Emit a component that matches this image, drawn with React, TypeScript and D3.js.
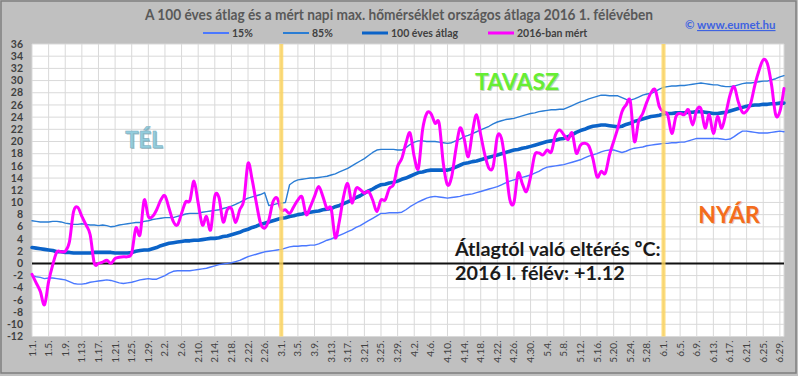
import React from "react";
import * as d3 from "d3";

// ---------- data ----------
const title =
  "A 100 éves átlag és a mért napi max. hőmérséklet országos átlaga 2016 1. félévében";

const seriesNames = ["15%", "85%", "100 éves átlag", "2016-ban mért"];

// daily categories 2016-01-01 .. 2016-06-30
const dayDates = d3.timeDay.range(new Date(2016, 0, 1), new Date(2016, 6, 1));
const dayLabels = dayDates.map((d) => `${d.getMonth() + 1}.${d.getDate()}.`);

const xTickLabels = [
  "1.1.", "1.5.", "1.9.", "1.13.", "1.17.", "1.21.", "1.25.", "1.29.",
  "2.2.", "2.6.", "2.10.", "2.14.", "2.18.", "2.22.", "2.26.",
  "3.1.", "3.5.", "3.9.", "3.13.", "3.17.", "3.21.", "3.25.", "3.29.",
  "4.2.", "4.6.", "4.10.", "4.14.", "4.18.", "4.22.", "4.26.", "4.30.",
  "5.4.", "5.8.", "5.12.", "5.16.", "5.20.", "5.24.", "5.28.",
  "6.1.", "6.5.", "6.9.", "6.13.", "6.17.", "6.21.", "6.25.", "6.29.",
];

const yTicks = [-12, -10, -8, -6, -4, -2, 0, 2, 4, 6, 8, 10, 12, 14, 16, 18, 20, 22, 24, 26, 28, 30, 32, 34, 36];

const seasonMarkers = ["3.1.", "6.1."];

const p15 = [
  -2.0, -2.2, -2.3, -2.5, -2.4, -2.4, -2.5, -2.6, -2.7, -3.0,
  -3.3, -3.4, -3.4, -3.3, -3.1, -3.0, -2.9, -2.8, -2.7, -2.8,
  -3.0, -3.2, -3.3, -3.2, -3.1, -2.9, -2.7, -2.6, -2.5, -2.6,
  -2.6, -2.3, -2.0, -1.6, -1.3, -1.2, -1.2, -1.2, -1.2, -1.1,
  -1.0, -0.9, -0.8, -0.6, -0.4, -0.2, -0.1, 0.0, 0.1, 0.3,
  0.5, 0.8, 1.1, 1.3, 1.5, 1.7, 1.9, 2.0, 2.1, 2.2,
  2.3, 2.5, 2.7, 2.8, 2.8, 2.9, 2.9, 3.0, 3.0, 3.2,
  3.5, 3.8, 4.0, 4.3, 4.6, 4.9, 5.2, 5.5, 5.9, 6.2,
  6.6, 7.0, 7.4, 7.8, 8.2, 8.2, 8.3, 8.3, 8.3, 8.4,
  8.8, 9.3, 9.7, 10.1, 10.4, 10.7, 10.9, 11.0, 10.9, 10.8,
  10.7, 10.8, 10.9, 11.0, 11.2, 11.3, 11.4, 11.6, 11.8, 12.0,
  12.2, 12.4, 12.6, 12.9, 13.2, 13.5, 13.7, 13.9, 14.1, 14.3,
  14.5, 14.8, 15.1, 15.5, 15.8, 15.9, 16.0, 16.1, 16.2, 16.4,
  16.6, 16.8, 17.0, 17.3, 17.6, 17.8, 18.0, 18.3, 18.5, 18.6,
  18.6, 18.4, 18.2, 18.4, 18.7, 18.9, 19.0, 19.1, 19.3, 19.4,
  19.5, 19.6, 19.7, 19.7, 19.8, 19.8, 19.9, 19.9, 20.1, 20.3,
  20.5, 20.5, 20.5, 20.5, 20.5, 20.5, 20.4, 20.3, 20.4, 20.8,
  21.3, 21.7, 21.7, 21.6, 21.5, 21.4, 21.4, 21.4, 21.5, 21.6,
  21.7, 21.6,
];

const p85 = [
  7.0, 6.9, 6.8, 6.8, 6.8, 6.9, 6.9, 6.8, 6.6, 6.5,
  6.4, 6.4, 6.5, 6.4, 6.3, 6.3, 6.2, 6.3, 6.2, 6.0,
  6.1, 6.3, 6.4, 6.5, 6.6, 6.7, 6.7, 6.9, 7.0, 7.2,
  7.3, 7.4, 7.5, 7.5, 7.5, 7.7, 7.9, 8.1, 8.2, 8.2,
  8.2, 8.4, 8.5, 8.6, 8.7, 8.8, 9.0, 9.2, 9.4, 9.7,
  10.0, 10.4, 10.7, 10.9, 11.1, 11.3, 11.6, 9.5, 9.6, 9.8,
  9.9, 10.0, 12.9, 13.4, 13.7, 13.8, 13.9, 14.0, 14.0, 14.1,
  14.2, 14.3, 14.5, 14.7, 15.0, 15.3, 15.6, 16.0, 16.4, 16.8,
  17.2, 17.7, 18.2, 18.6, 18.7, 18.7, 18.7, 18.7, 18.6, 18.6,
  19.0, 19.5, 19.9, 20.1, 20.1, 20.0, 20.0, 20.0, 19.9, 19.8,
  19.7, 19.8, 20.1, 20.4, 20.8, 21.0, 21.3, 21.6, 21.9, 22.2,
  22.5, 22.9, 23.2, 23.4, 23.6, 23.7, 23.8, 24.0, 24.2, 24.4,
  24.6, 24.7, 24.9, 25.0, 25.1, 25.2, 25.2, 25.3, 25.3, 25.6,
  25.9, 26.2, 26.5, 26.7, 27.0, 27.2, 27.4, 27.6, 27.6, 27.5,
  27.5, 27.5, 27.2, 26.9, 26.8, 27.0, 27.3, 27.6, 27.8, 27.9,
  28.2, 28.6, 28.9, 29.0, 29.1, 29.1, 29.2, 29.2, 29.3, 29.4,
  29.5, 29.6, 29.5, 29.4, 29.3, 29.3, 29.1, 29.0, 29.0, 29.1,
  29.3, 29.5, 29.6, 29.6, 29.7, 29.8, 29.9, 29.9, 30.1, 30.3,
  30.6, 30.8,
];

const avg100 = [
  2.6, 2.5, 2.4, 2.3, 2.2, 2.1, 1.9, 1.9, 1.8, 1.8,
  1.7, 1.7, 1.7, 1.7, 1.7, 1.8, 1.8, 1.8, 1.8, 1.8,
  1.7, 1.7, 1.7, 1.7, 1.8, 2.0, 2.1, 2.2, 2.2, 2.4,
  2.6, 2.9, 3.1, 3.3, 3.4, 3.5, 3.6, 3.7, 3.7, 3.8,
  3.8, 3.9, 4.0, 4.1, 4.1, 4.2, 4.4, 4.5, 4.7, 4.9,
  5.1, 5.4, 5.6, 5.9, 6.1, 6.4, 6.6, 6.8, 7.0, 7.2,
  7.4, 7.5, 7.7, 7.8, 8.0, 8.1, 8.3, 8.4, 8.5, 8.6,
  8.8, 8.9, 9.0, 9.3, 9.5, 9.8, 10.1, 10.4, 10.8, 11.1,
  11.5, 11.9, 12.2, 12.6, 12.9, 13.0, 13.2, 13.3, 13.5, 13.8,
  14.0, 14.3, 14.6, 14.9, 15.0, 15.2, 15.3, 15.3, 15.3, 15.3,
  15.3, 15.5, 15.8, 16.1, 16.4, 16.5, 16.7, 16.8, 17.0, 17.2,
  17.4, 17.6, 17.8, 18.0, 18.2, 18.4, 18.6, 18.7, 18.9, 19.0,
  19.2, 19.4, 19.6, 19.8, 20.0, 20.1, 20.2, 20.4, 20.5, 20.8,
  21.1, 21.5, 21.8, 22.0, 22.3, 22.5, 22.6, 22.7, 22.7, 22.6,
  22.5, 22.4, 22.5, 22.8, 23.0, 23.3, 23.5, 23.7, 23.9, 24.1,
  24.2, 24.3, 24.5, 24.6, 24.6, 24.7, 24.7, 24.7, 24.8, 24.8,
  24.9, 24.9, 24.8, 24.7, 24.6, 24.6, 24.7, 24.8, 25.0, 25.2,
  25.4, 25.6, 25.8, 25.9, 26.0, 26.0, 26.1, 26.1, 26.2, 26.2,
  26.3, 26.3,
];

const measured2016 = [
  -1.8, -3.2, -4.6, -6.8, -3.0, -0.2, 1.9, 1.9, 2.0, 3.5,
  8.5, 9.2, 7.7, 6.3, 4.7, 0.0, 0.0, 0.2, 0.5, 0.0,
  0.8, 1.0, 1.1, 1.1, 1.7, 5.8, 4.7, 10.4, 7.7, 7.7,
  8.8, 10.4, 11.1, 9.0, 6.9, 6.3, 8.2, 10.1, 10.3, 13.5,
  9.9, 6.3, 7.7, 5.5, 11.0, 10.8, 6.8, 8.8, 9.0, 6.7,
  8.8, 10.4, 16.4, 13.7, 9.9, 6.6, 5.8, 7.1, 10.1, 10.7,
  8.8, 8.8, 8.2, 9.3, 10.4, 10.9, 8.0, 9.3, 11.0, 12.6,
  11.0, 9.0, 9.0, 4.2, 7.0, 11.0, 13.1, 9.9, 12.3, 12.1,
  11.5, 11.8, 10.4, 8.5, 10.4, 10.4, 12.3, 12.9, 15.9, 17.2,
  19.7, 21.4, 17.5, 15.6, 21.9, 24.6, 24.6, 23.0, 23.0, 16.4,
  12.9, 14.2, 18.6, 22.2, 20.5, 17.5, 21.5, 24.4, 21.1, 17.8,
  15.6, 15.9, 20.8, 20.5, 16.0, 10.5, 10.0, 14.8, 13.1, 11.8,
  14.2, 17.8, 18.1, 17.8, 18.6, 18.3, 21.1, 21.9, 21.1, 20.3,
  21.4, 18.1, 19.4, 19.7, 19.3, 17.2, 14.2, 15.1, 14.8, 17.8,
  20.0, 22.2, 24.9, 26.0, 26.6, 20.0, 23.3, 24.6, 26.5, 28.0,
  28.5, 25.7, 24.9, 24.4, 21.3, 24.1, 24.6, 24.4, 25.2, 22.7,
  25.2, 25.4, 22.2, 24.4, 21.3, 24.1, 22.2, 24.6, 27.6, 29.0,
  26.5, 24.8, 25.0, 26.3, 29.3, 31.7, 33.4, 32.8, 29.3, 24.4,
  24.9, 28.7,
];

const annotationLine1 = "Átlagtól való eltérés ºC:";
const annotationLine2 = "2016 I. félév: +1.12";

// ---------- layout ----------
const W = 798;
const H = 376;
const PL = 32;
const PR = 784;
const PT = 44;
const PB = 336.5;
const FONT = "Lato, 'Open Sans', 'DejaVu Sans', sans-serif";

const colors = ["#4a78ff", "#2a7dd4", "#0b63c8", "#ff00ff"];
const widths = [1.4, 1.4, 3.6, 3];

export default function App() {
  const x = d3.scalePoint<string>().domain(dayLabels).range([PL, PR]);
  const y = d3.scaleLinear().domain([-12, 36]).range([PB, PT]);

  const straight = d3
    .line<number>()
    .x((_, i) => x(dayLabels[i]) as number)
    .y((v) => y(v));
  const smooth = d3
    .line<number>()
    .x((_, i) => x(dayLabels[i]) as number)
    .y((v) => y(v))
    .curve(d3.curveCardinal.tension(0));

  const series = [p15, p85, avg100, measured2016];

  const legendX = [203, 283, 362, 488];

  return (
    <div style={{ position: "absolute", left: 0, top: 0 }}>
      <svg width={W} height={H} style={{ display: "block" }} fontFamily={FONT}>
        <rect x={0} y={0} width={W} height={H} fill="#c0c0c0" />
        <rect x={1} y={1} width={W - 3} height={H - 4} fill="none" stroke="#7f7f7f" strokeWidth={1.5} />
        {/* plot area */}
        <rect x={PL} y={PT} width={PR - PL} height={PB - PT} fill="#ffffff" />
        {yTicks.map((t) => (
          <line key={"hy" + t} x1={PL} x2={PR} y1={y(t)} y2={y(t)} stroke="#d9d9d9" strokeWidth={1} />
        ))}
        {xTickLabels.map((l) => (
          <line key={"vx" + l} x1={x(l)} x2={x(l)} y1={PT} y2={PB} stroke="#d9d9d9" strokeWidth={1} />
        ))}
        <line x1={PR} x2={PR} y1={PT} y2={PB} stroke="#d9d9d9" strokeWidth={1} />

        {/* y labels */}
        {yTicks.map((t) => (
          <text key={"yl" + t} x={23} y={y(t)} dy="0.35em" textAnchor="end" fontSize={10.5} fontWeight="bold" fill="#404040">
            {t}
          </text>
        ))}
        {/* x labels */}
        {xTickLabels.map((l) => (
          <text
            key={"xl" + l}
            transform={`translate(${x(l)},${PB + 4}) rotate(-90)`}
            dy="0.35em"
            textAnchor="end"
            fontSize={10}
            fill="#404040"
          >
            {l}
          </text>
        ))}

        {/* annotations */}
        <text x={144} y={148} textAnchor="middle" fontSize={22} fontWeight="bold" fill="#7b9aa6" opacity={0.6} transform="translate(1,1)">TÉL</text>
        <text x={144} y={148} textAnchor="middle" fontSize={22} fontWeight="bold" fill="#93cddd" stroke="#7fb0c2" strokeWidth={0.6}>TÉL</text>
        <text x={517} y={90} textAnchor="middle" fontSize={23} fontWeight="bold" fill="#5a8a40" opacity={0.35} transform="translate(1,1)">TAVASZ</text>
        <text x={517} y={90} textAnchor="middle" fontSize={23} fontWeight="bold" fill="#66ee33">TAVASZ</text>
        <text x={729} y={223} textAnchor="middle" fontSize={23} fontWeight="bold" fill="#a05020" opacity={0.3} transform="translate(1,1)">NYÁR</text>
        <text x={729} y={223} textAnchor="middle" fontSize={23} fontWeight="bold" fill="#f46d1c">NYÁR</text>
        <text x={455} y={256} fontSize={19.8} fontWeight="bold" fill="#1a1a1a">{annotationLine1}</text>
        <text x={455} y={280} fontSize={19.8} fontWeight="bold" fill="#1a1a1a">{annotationLine2}</text>

        {/* zero line */}
        <line x1={PL} x2={PR} y1={y(0)} y2={y(0)} stroke="#111" strokeWidth={2} />

        {/* series */}
        {series.map((s, i) => (
          <path
            key={"s" + i}
            d={(i === 3 ? smooth(s) : straight(s)) || ""}
            fill="none"
            stroke={colors[i]}
            strokeWidth={widths[i]}
            strokeLinejoin="round"
            strokeLinecap="round"
          />
        ))}

        {/* season markers */}
        {seasonMarkers.map((m) => (
          <line key={"m" + m} x1={x(m)} x2={x(m)} y1={PT} y2={PB} stroke="#fdd35a" strokeOpacity={0.8} strokeWidth={4} />
        ))}

        {/* title */}
        <text
          x={399}
          y={20}
          textAnchor="middle"
          fontSize={14.5}
          fontWeight="bold"
          fill="#595959"
          textLength={508}
          lengthAdjust="spacingAndGlyphs"
        >
          {title}
        </text>

        {/* legend */}
        {seriesNames.map((n, i) => (
          <g key={"lg" + i}>
            <line x1={legendX[i]} x2={legendX[i] + 26} y1={33} y2={33} stroke={colors[i]} strokeWidth={i < 2 ? 2 : 3} />
            <text x={legendX[i] + 29} y={33} dy="0.35em" fontSize={10.5} fontWeight="bold" fill="#404040">
              {n}
            </text>
          </g>
        ))}

        {/* credit */}
        <text x={685} y={29} fontSize={11.5} fontWeight="bold" fill="#3f63e0">
          {"© "}
          <tspan textDecoration="underline">www.eumet.hu</tspan>
        </text>
      </svg>
    </div>
  );
}
